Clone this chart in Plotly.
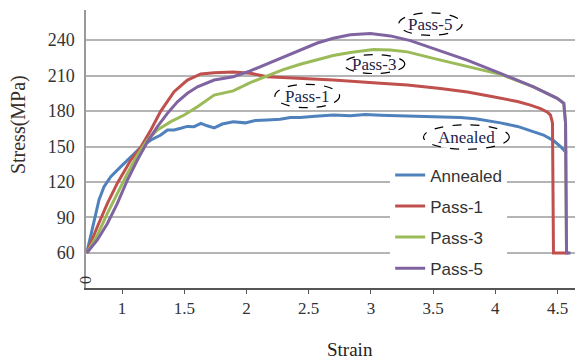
import plotly.graph_objects as go

# ---------------- data ----------------
annealed_strain = [0.716, 0.743, 0.775, 0.815, 0.855, 0.909, 0.990, 1.070, 1.150, 1.231,
                   1.311, 1.364, 1.418, 1.472, 1.523, 1.579, 1.633, 1.684, 1.740, 1.805,
                   1.893, 1.990, 2.070, 2.167, 2.271, 2.352, 2.432, 2.553, 2.697, 2.834,
                   2.955, 3.076, 3.236, 3.397, 3.558, 3.719, 3.840, 3.936, 4.041, 4.178,
                   4.282, 4.387, 4.467, 4.524, 4.572]
annealed_stress = [60, 72, 88, 105, 116, 124.5, 133, 141.4, 149.3, 155.5,
                   159.7, 164, 164, 165.4, 167, 166.8, 169.6, 167.5, 165.8, 169,
                   171, 170, 172, 172.4, 173, 174.5, 174.6, 175.5, 176.6, 176,
                   177, 176.5, 176, 176, 175.5, 174.6, 173.5, 172, 170, 167,
                   163.5, 159.7, 155, 150, 144.5]

pass1_strain = [0.716, 0.759, 0.801, 0.882, 0.962, 1.070, 1.150, 1.231, 1.311, 1.418,
                1.525, 1.633, 1.740, 1.893, 2.030, 2.167, 2.432, 2.697, 3.076, 3.293,
                3.558, 3.775, 3.960, 4.178, 4.282, 4.363, 4.419, 4.443, 4.459, 4.467,
                4.588]
pass1_stress = [60, 72, 82.2, 102, 119, 138.6, 149.3, 164, 180, 196.3,
                206.2, 211.3, 212.4, 213, 212, 209, 207.6, 206.2, 203.4, 202,
                199, 196, 192.5, 188, 185, 182, 179, 176.6, 170, 60,
                60]

pass3_strain = [0.716, 0.801, 0.882, 0.962, 1.043, 1.123, 1.204, 1.284, 1.392, 1.499,
                1.606, 1.740, 1.893, 2.030, 2.167, 2.295, 2.432, 2.569, 2.697, 2.834,
                3.020, 3.156, 3.293, 3.502, 3.775, 4.041, 4.307, 4.497, 4.550, 4.564,
                4.572]
pass3_stress = [60, 75, 93.5, 110.4, 127.3, 142.8, 155.5, 164, 171, 176.6,
                183.6, 193.5, 197, 204, 210, 215, 219.5, 223.5, 227, 229.5,
                232, 231.5, 230, 224.5, 217.4, 211, 200.5, 190.7, 186.5, 170,
                60]

pass5_strain = [0.716, 0.801, 0.882, 0.962, 1.043, 1.123, 1.204, 1.284, 1.364, 1.445,
                1.525, 1.606, 1.740, 1.893, 2.030, 2.167, 2.295, 2.432, 2.569, 2.697,
                2.834, 2.995, 3.156, 3.317, 3.502, 3.773, 4.041, 4.307, 4.497, 4.550,
                4.564, 4.572, 4.604]
pass5_stress = [60, 71, 85, 102, 121.7, 138.6, 154, 166.8, 178, 187.8,
                195, 200.5, 206.2, 209, 214, 220, 226, 232, 237.5, 241.5,
                244.5, 245.5, 243.5, 239.5, 233, 223, 211.8, 200.5, 190.7, 186.5,
                170, 60, 60]

series_names = ["Annealed", "Pass-1", "Pass-3", "Pass-5"]
series_colors = ["#4F81BD", "#C0504D", "#9BBB59", "#8064A2"]

x_ticks = [1, 1.5, 2, 2.5, 3, 3.5, 4, 4.5]
x_tick_text = ["1", "1.5", "2", "2.5", "3", "3.5", "4", "4.5"]
y_ticks = [60, 90, 120, 150, 180, 210, 240]

# callout labels: text, centre strain, centre stress, half-width, half-height
callout_text = ["Pass-5", "Pass-3", "Pass-1", "Anealed"]
callout_x = [3.478, 3.027, 2.488, 3.767]
callout_y = [253.5, 219.7, 192.7, 158.0]
callout_hw = [0.255, 0.245, 0.26, 0.345]
callout_hh = [9.5, 8.0, 9.9, 10.3]

# ---------------- figure ----------------
fig = go.Figure()
xs = [annealed_strain, pass1_strain, pass3_strain, pass5_strain]
ys = [annealed_stress, pass1_stress, pass3_stress, pass5_stress]
for name, col, x, y in zip(series_names, series_colors, xs, ys):
    fig.add_trace(go.Scatter(x=x, y=y, mode="lines", name=name, legendgroup=name,
                             line=dict(color=col, width=3)))

serif = "Liberation Serif"
shapes = []
annotations = []
for t, cx, cy, hw, hh in zip(callout_text, callout_x, callout_y, callout_hw, callout_hh):
    shapes.append(dict(type="circle", xref="x", yref="y",
                       x0=cx - hw, x1=cx + hw, y0=cy - hh, y1=cy + hh,
                       line=dict(color="black", width=1.2, dash="dash"),
                       fillcolor="white", layer="above"))
    annotations.append(dict(x=cx, y=cy, xref="x", yref="y", text=t, showarrow=False,
                            font=dict(family=serif, size=17, color="#23234a")))

annotations.append(dict(x=0.712, y=37, xref="x", yref="y", text="0", showarrow=False,
                        textangle=90, font=dict(family=serif, size=16, color="#333")))
annotations.append(dict(x=-0.139, y=0.586, xref="paper", yref="paper", text="Stress(MPa)",
                        showarrow=False, textangle=-90, xanchor="center", yanchor="middle",
                        font=dict(family=serif, size=20, color="#3a2e2a")))
annotations.append(dict(x=0.54, y=-0.223, xref="paper", yref="paper", text="Strain",
                        showarrow=False, xanchor="center", yanchor="middle",
                        font=dict(family=serif, size=19, color="#222")))

fig.update_layout(
    width=577, height=363,
    margin=dict(l=86, r=2, t=10, b=75),
    paper_bgcolor="white", plot_bgcolor="white",
    shapes=shapes, annotations=annotations,
    showlegend=True,
    legend=dict(x=0.622, y=0.47, xanchor="left", yanchor="top",
                bgcolor="white", borderwidth=0, tracegroupgap=6,
                font=dict(family="Liberation Sans", size=17, color="#333")),
    xaxis=dict(range=[0.71, 4.64], tickvals=x_ticks, ticktext=x_tick_text,
               showgrid=False, zeroline=False, showline=True,
               linecolor="#555", linewidth=1.5,
               ticks="outside", ticklen=4, tickcolor="#555",
               ticklabelstandoff=0,
               tickfont=dict(family=serif, size=17, color="#333")),
    yaxis=dict(range=[30.4, 265.4], tickvals=y_ticks,
               showgrid=True, gridcolor="#b4b4b4", gridwidth=1.5,
               zeroline=False, showline=True, linecolor="#999", linewidth=1.5,
               ticks="", ticklabelstandoff=6,
               tickfont=dict(family=serif, size=18, color="#333")),
)

fig.write_html("out.html", config={"displayModeBar": False},
               post_script="document.body.style.margin='0px';")
